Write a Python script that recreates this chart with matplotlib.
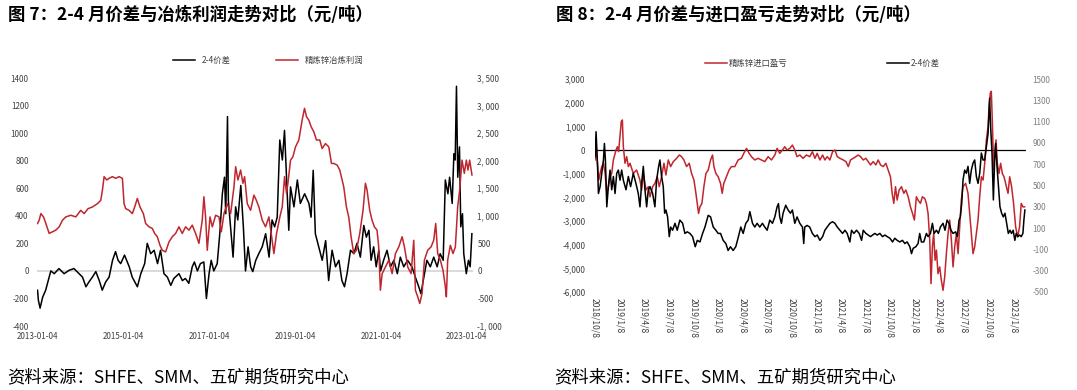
import matplotlib
matplotlib.use("Agg")
import matplotlib.pyplot as plt
import pandas as pd
from matplotlib.ticker import FuncFormatter

plt.rcParams["font.family"] = ["Noto Sans CJK SC", "DejaVu Sans"]
plt.rcParams["axes.unicode_minus"] = False

RED = "#C0262D"
GREY = "#404040"

# ---- figure 7: 2-4 spread vs smelting profit (x in decimal years) ----
f7_spread_t = [
    2013.00, 2013.02, 2013.06, 2013.12, 2013.19, 2013.27, 2013.31, 2013.39, 2013.50, 2013.62,
    2013.74, 2013.85, 2013.97, 2014.05, 2014.13, 2014.20, 2014.28, 2014.36, 2014.44, 2014.51,
    2014.59, 2014.67, 2014.75, 2014.82, 2014.88, 2014.94, 2015.03, 2015.14, 2015.21, 2015.33,
    2015.41, 2015.50, 2015.56, 2015.64, 2015.72, 2015.80, 2015.87, 2015.95, 2016.03, 2016.11,
    2016.18, 2016.30, 2016.38, 2016.45, 2016.53, 2016.61, 2016.66, 2016.73, 2016.80, 2016.88,
    2016.94, 2017.00, 2017.05, 2017.11, 2017.19, 2017.25, 2017.31, 2017.36, 2017.39, 2017.43,
    2017.45, 2017.50, 2017.56, 2017.62, 2017.67, 2017.74, 2017.80, 2017.85, 2017.91, 2017.97,
    2018.02, 2018.09, 2018.16, 2018.24, 2018.32, 2018.40, 2018.47, 2018.53, 2018.59, 2018.65,
    2018.71, 2018.76, 2018.81, 2018.86, 2018.90, 2018.98, 2019.06, 2019.13, 2019.23, 2019.33,
    2019.38, 2019.43, 2019.48, 2019.56, 2019.64, 2019.72, 2019.79, 2019.87, 2019.95, 2020.03,
    2020.10, 2020.16, 2020.22, 2020.30, 2020.38, 2020.45, 2020.53, 2020.61, 2020.67, 2020.73,
    2020.78, 2020.84, 2020.90, 2020.96, 2021.00, 2021.07, 2021.15, 2021.23, 2021.31, 2021.39,
    2021.46, 2021.54, 2021.63, 2021.73, 2021.81, 2021.89, 2021.94, 2022.01, 2022.08, 2022.16,
    2022.24, 2022.32, 2022.39, 2022.46, 2022.51, 2022.57, 2022.61, 2022.67, 2022.71, 2022.74,
    2022.77, 2022.80, 2022.84, 2022.87, 2022.91, 2022.94, 2023.00, 2023.05, 2023.09, 2023.13,
]
f7_spread = [
    -140, -213, -270, -190, -140, -45, 0, -20, 17, -20,
    5, 17, -20, -45, -115, -80, -45, -5, -70, -140,
    -80, -45, 77, 140, 77, 53, 115, 30, -45, -115,
    -20, 53, 200, 125, 150, 53, 150, -20, -45, -105,
    -55, -20, -70, -55, -90, 30, 65, 0, 53, 65,
    -200, -20, 77, 0, 53, 270, 560, 680, 415, 1120,
    510, 320, 100, 465, 370, 620, 320, 0, 175, 30,
    -5, 77, 125, 175, 270, 100, 370, 320, 390, 950,
    805, 1020, 660, 295, 610, 465, 660, 490, 560, 490,
    390, 730, 270, 175, 77, 220, -70, 150, 30, 77,
    -70, -115, -20, 150, 125, 200, 100, 330, 245, 295,
    77, 175, 30, 150, 0, 77, 150, 30, 77, -20,
    100, 30, 77, 30, -45, -115, -165, -45, 77, 30,
    100, 30, 125, 77, 660, 560, 680, 490, 850, 805,
    1340, 680, 900, 320, 415, 125, -20, 77, 30, 270,
]

f7_profit_t = [
    2013.000, 2013.039, 2013.078, 2013.140, 2013.194, 2013.272, 2013.349, 2013.427, 2013.505, 2013.582,
    2013.660, 2013.776, 2013.893, 2014.009, 2014.087, 2014.180, 2014.281, 2014.398, 2014.475, 2014.514,
    2014.553, 2014.615, 2014.669, 2014.747, 2014.825, 2014.902, 2014.980, 2015.019, 2015.057, 2015.135,
    2015.213, 2015.267, 2015.329, 2015.391, 2015.469, 2015.523, 2015.601, 2015.679, 2015.733, 2015.795,
    2015.857, 2015.911, 2015.989, 2016.067, 2016.144, 2016.222, 2016.300, 2016.377, 2016.455, 2016.533,
    2016.610, 2016.688, 2016.766, 2016.843, 2016.882, 2016.921, 2016.960, 2017.022, 2017.076, 2017.154,
    2017.231, 2017.286, 2017.348, 2017.425, 2017.503, 2017.581, 2017.620, 2017.674, 2017.736, 2017.790,
    2017.829, 2017.891, 2017.969, 2018.047, 2018.101, 2018.163, 2018.241, 2018.318, 2018.396, 2018.450,
    2018.512, 2018.575, 2018.652, 2018.707, 2018.761, 2018.807, 2018.839, 2018.901, 2018.955, 2019.017,
    2019.095, 2019.172, 2019.227, 2019.273, 2019.328, 2019.382, 2019.444, 2019.506, 2019.584, 2019.638,
    2019.716, 2019.793, 2019.856, 2019.910, 2019.988, 2020.050, 2020.104, 2020.143, 2020.205, 2020.259,
    2020.314, 2020.376, 2020.438, 2020.516, 2020.593, 2020.648, 2020.686, 2020.748, 2020.803, 2020.857,
    2020.919, 2020.958, 2020.997, 2021.036, 2021.113, 2021.191, 2021.269, 2021.346, 2021.424, 2021.502,
    2021.556, 2021.634, 2021.711, 2021.773, 2021.812, 2021.866, 2021.913, 2021.967, 2022.022, 2022.099,
    2022.177, 2022.239, 2022.286, 2022.332, 2022.394, 2022.457, 2022.511, 2022.534, 2022.565, 2022.627,
    2022.689, 2022.744, 2022.798, 2022.845, 2022.899, 2022.953, 2023.000, 2023.039, 2023.078, 2023.132,
]
f7_profit = [
    860, 920, 1040, 980, 860, 680, 710, 740, 800, 920,
    980, 1010, 980, 1100, 1040, 1130, 1160, 1220, 1280, 1465,
    1710, 1650, 1680, 1710, 1680, 1710, 1680, 1220, 1130, 1100,
    1040, 1160, 1315, 1160, 1040, 860, 800, 770, 680, 620,
    465, 375, 345, 525, 620, 680, 800, 680, 800, 740,
    830, 680, 500, 920, 1345, 980, 375, 980, 800, 1010,
    980, 710, 1040, 1220, 1040, 1525, 1890, 1650, 1830, 1590,
    1710, 1220, 1100, 1375, 1285, 1160, 920, 800, 980, 680,
    315, 680, 980, 1160, 1710, 1405, 1590, 2010, 2070, 2250,
    2375, 2735, 2950, 2800, 2735, 2615, 2525, 2375, 2375, 2220,
    2310, 2250, 1950, 1950, 1920, 1830, 1650, 1525, 1160, 980,
    620, 315, 375, 680, 1100, 1590, 1470, 1100, 920, 800,
    740, 435, -350, -50, 70, 195, -50, 315, 435, 620,
    435, 70, -50, 555, -350, -470, -590, -410, 195, 375,
    435, 555, 860, 315, 195, 10, -290, -470, 195, 465,
    315, 435, 1160, 1470, 2010, 1770, 2010, 1830, 2010, 1740,
]
f7_ticks = ["2013-01-04", "2015-01-04", "2017-01-04", "2019-01-04", "2021-01-04", "2023-01-04"]

# ---- figure 8: import profit vs 2-4 spread (x in decimal years) ----
f8_import_t = [
    2018.767, 2018.777, 2018.791, 2018.804, 2018.818, 2018.835, 2018.852, 2018.869, 2018.886, 2018.902,
    2018.919, 2018.936, 2018.953, 2018.980, 2018.994, 2019.007, 2019.021, 2019.034, 2019.045, 2019.055,
    2019.072, 2019.089, 2019.106, 2019.123, 2019.156, 2019.190, 2019.224, 2019.241, 2019.258, 2019.285,
    2019.309, 2019.326, 2019.353, 2019.376, 2019.400, 2019.420, 2019.444, 2019.468, 2019.488, 2019.512,
    2019.536, 2019.563, 2019.597, 2019.624, 2019.647, 2019.671, 2019.698, 2019.725, 2019.749, 2019.773,
    2019.793, 2019.807, 2019.820, 2019.834, 2019.854, 2019.874, 2019.895, 2019.918, 2019.942, 2019.962,
    2019.976, 2019.996, 2020.020, 2020.044, 2020.061, 2020.077, 2020.104, 2020.131, 2020.155, 2020.189,
    2020.223, 2020.257, 2020.280, 2020.308, 2020.335, 2020.358, 2020.392, 2020.426, 2020.460, 2020.494,
    2020.528, 2020.562, 2020.596, 2020.619, 2020.646, 2020.673, 2020.697, 2020.721, 2020.748, 2020.775,
    2020.799, 2020.822, 2020.850, 2020.883, 2020.917, 2020.951, 2020.978, 2021.002, 2021.025, 2021.052,
    2021.080, 2021.103, 2021.127, 2021.154, 2021.181, 2021.205, 2021.229, 2021.256, 2021.290, 2021.317,
    2021.341, 2021.364, 2021.391, 2021.418, 2021.442, 2021.466, 2021.493, 2021.520, 2021.544, 2021.567,
    2021.594, 2021.621, 2021.645, 2021.669, 2021.696, 2021.723, 2021.747, 2021.770, 2021.787, 2021.804,
    2021.821, 2021.838, 2021.858, 2021.882, 2021.906, 2021.926, 2021.950, 2021.973, 2021.994, 2022.014,
    2022.034, 2022.051, 2022.075, 2022.095, 2022.119, 2022.136, 2022.153, 2022.170, 2022.183, 2022.197,
    2022.210, 2022.224, 2022.238, 2022.254, 2022.271, 2022.288, 2022.305, 2022.322, 2022.339, 2022.356,
    2022.373, 2022.390, 2022.407, 2022.424, 2022.441, 2022.458, 2022.474, 2022.491, 2022.508, 2022.535,
    2022.559, 2022.576, 2022.593, 2022.610, 2022.627, 2022.644, 2022.661, 2022.678, 2022.695, 2022.712,
    2022.729, 2022.746, 2022.763, 2022.773, 2022.786, 2022.796, 2022.806, 2022.820, 2022.834, 2022.844,
    2022.857, 2022.874, 2022.891, 2022.908, 2022.925, 2022.949, 2022.966, 2022.983, 2023.003, 2023.023,
    2023.044, 2023.064, 2023.084, 2023.101, 2023.118, 2023.135,
]
f8_import = [
    -420, 210, -560, -1270, -990, -700, -560, -990, -1830, -1550,
    -1130, -990, -420, 0, 140, -70, 565, 1200, 1270, 140,
    -560, -280, -700, -560, -990, -845, -1270, -1690, -990, -1690,
    -1550, -1975, -1550, -1410, -1130, -1550, -1130, -560, -1055, -420,
    -700, -490, -350, -210, -280, -420, -700, -560, -990, -1270,
    -1830, -2255, -2680, -2400, -2255, -1550, -990, -845, -420, -210,
    -700, -990, -1130, -1410, -1830, -1410, -1130, -845, -700, -700,
    -420, -350, -140, 70, -140, -280, -420, -350, -420, -490,
    -280, -420, -210, 70, -140, 0, 140, 0, 70, 210,
    0, -280, -210, -350, -210, -280, -70, -350, -140, -420,
    -210, -420, -280, -420, -70, 0, -280, -350, -420, -490,
    -700, -420, -350, -280, -210, -280, -420, -350, -490, -630,
    -490, -630, -420, -630, -700, -560, -845, -1130, -1830, -2255,
    -1550, -2115, -1690, -1550, -1830, -1690, -1975, -2400, -2680, -2960,
    -1975, -2115, -2255, -1975, -2045, -2255, -2680, -3810, -5650, -4090,
    -3530, -4660, -4230, -5225, -4940, -5505, -5930, -5365, -4380, -3530,
    -2960, -3810, -4940, -4090, -3530, -4380, -3245, -2115, -1550, -1410,
    -1830, -2680, -3530, -4380, -4090, -3530, -2960, -1975, -1130, -1270,
    -560, 430, 990, 1840, 2410, 2480, 1270, -845, 0, 430,
    -560, -990, -560, -990, -1130, -1550, -1830, -1130, -1550, -2255,
    -3245, -3670, -3245, -2255, -2400, -2400,
]

f8_spread_t = [
    2018.767, 2018.777, 2018.791, 2018.801, 2018.818, 2018.835, 2018.852, 2018.862, 2018.872, 2018.886,
    2018.902, 2018.919, 2018.936, 2018.953, 2018.970, 2018.987, 2019.004, 2019.021, 2019.038, 2019.055,
    2019.082, 2019.106, 2019.129, 2019.156, 2019.183, 2019.207, 2019.224, 2019.241, 2019.258, 2019.275,
    2019.292, 2019.309, 2019.326, 2019.353, 2019.376, 2019.393, 2019.414, 2019.427, 2019.444, 2019.461,
    2019.475, 2019.488, 2019.505, 2019.522, 2019.536, 2019.556, 2019.580, 2019.603, 2019.630, 2019.658,
    2019.681, 2019.705, 2019.732, 2019.759, 2019.786, 2019.807, 2019.834, 2019.861, 2019.885, 2019.918,
    2019.942, 2019.969, 2019.996, 2020.020, 2020.044, 2020.071, 2020.098, 2020.121, 2020.145, 2020.172,
    2020.199, 2020.226, 2020.250, 2020.274, 2020.301, 2020.325, 2020.342, 2020.369, 2020.392, 2020.416,
    2020.443, 2020.470, 2020.494, 2020.518, 2020.545, 2020.572, 2020.596, 2020.619, 2020.633, 2020.646,
    2020.663, 2020.680, 2020.707, 2020.731, 2020.755, 2020.775, 2020.799, 2020.822, 2020.850, 2020.877,
    2020.890, 2020.900, 2020.924, 2020.951, 2020.978, 2021.002, 2021.025, 2021.052, 2021.080, 2021.103,
    2021.127, 2021.154, 2021.181, 2021.205, 2021.229, 2021.256, 2021.283, 2021.307, 2021.330, 2021.357,
    2021.374, 2021.398, 2021.425, 2021.452, 2021.476, 2021.493, 2021.520, 2021.544, 2021.567, 2021.588,
    2021.611, 2021.635, 2021.662, 2021.689, 2021.713, 2021.737, 2021.764, 2021.791, 2021.814, 2021.838,
    2021.865, 2021.892, 2021.916, 2021.940, 2021.967, 2021.984, 2022.001, 2022.028, 2022.051, 2022.068,
    2022.085, 2022.109, 2022.136, 2022.153, 2022.177, 2022.197, 2022.214, 2022.238, 2022.258, 2022.278,
    2022.305, 2022.325, 2022.346, 2022.366, 2022.386, 2022.407, 2022.434, 2022.451, 2022.468, 2022.481,
    2022.495, 2022.508, 2022.525, 2022.542, 2022.559, 2022.576, 2022.593, 2022.610, 2022.627, 2022.644,
    2022.661, 2022.678, 2022.695, 2022.712, 2022.729, 2022.746, 2022.763, 2022.779, 2022.789, 2022.803,
    2022.817, 2022.830, 2022.840, 2022.854, 2022.871, 2022.884, 2022.901, 2022.918, 2022.935, 2022.952,
    2022.969, 2022.986, 2023.002, 2023.019, 2023.036, 2023.050, 2023.067, 2023.084, 2023.101, 2023.118,
    2023.128, 2023.138,
]
f8_spread = [
    770, 1005, 710, 425, 490, 615, 740, 895, 740, 300,
    490, 645, 460, 585, 425, 615, 645, 550, 645, 550,
    460, 585, 490, 615, 520, 425, 300, 520, 680, 460,
    300, 460, 490, 425, 300, 550, 680, 740, 585, 490,
    240, 270, 205, 20, 110, 80, 145, 80, 175, 145,
    50, 65, 50, 20, -75, -15, -30, 50, 110, 220,
    205, 110, 80, 50, 50, -15, -45, -110, -75, -110,
    -75, 20, 110, 50, 145, 175, 255, 145, 110, 145,
    110, 145, 110, 80, 175, 145, 205, 300, 330, 205,
    145, 240, 315, 270, 240, 270, 145, 205, 145, 110,
    -45, 110, 125, 110, 50, 20, 35, -15, 20, 80,
    110, 145, 160, 145, 110, 80, 50, 80, 50, -30,
    80, 50, 80, 50, -15, 80, 50, 35, 20, 35,
    50, 35, 50, 20, 35, 20, 5, -30, 5, -15,
    -30, -15, -45, -30, -75, -140, -90, -75, -45, 50,
    -30, -30, 50, 20, 50, 145, 50, 80, 50, 110,
    145, 80, 175, 145, 80, 50, 65, 20, 175, 205,
    330, 550, 645, 615, 680, 520, 645, 710, 740, 585,
    520, 615, 805, 740, 740, 865, 990, 1320, 1055, 805,
    365, 740, 895, 680, 460, 300, 240, 205, 240, 145,
    50, 80, 50, 80, -15, 50, 20, 35, 20, 50,
    175, 270,
]
f8_ticks = [
    "2018/10/8", "2019/1/8", "2019/4/8", "2019/7/8", "2019/10/8", "2020/1/8",
    "2020/4/8", "2020/7/8", "2020/10/8", "2021/1/8", "2021/4/8", "2021/7/8",
    "2021/10/8", "2022/1/8", "2022/4/8", "2022/7/8", "2022/10/8", "2023/1/8",
]


def to_dates(years):
    out = []
    for y in years:
        base = pd.Timestamp(int(y), 1, 1)
        out.append(base + pd.Timedelta(days=(y - int(y)) * 365.25))
    return out


def comma_space(v, pos):
    return f"{int(v):,}".replace(",", ", ")


def comma(v, pos):
    return f"{int(v):,}"


def clean(ax):
    for sp in ax.spines.values():
        sp.set_visible(False)
    ax.tick_params(length=0, labelsize=5.8, labelcolor=GREY)


fig = plt.figure(figsize=(10.77, 3.90), dpi=100)

# ---------- left chart ----------
ax1 = fig.add_axes([0.0344, 0.164, 0.405, 0.636])
ax1b = ax1.twinx()
l1, = ax1.plot(to_dates(f7_spread_t), f7_spread, color="black", lw=1.1, label="2-4价差")
l2, = ax1b.plot(to_dates(f7_profit_t), f7_profit, color=RED, lw=1.1, label="精炼锌冶炼利润")
ax1.axhline(0, color="#d9d9d9", lw=1.4, zorder=0)
ax1.set_ylim(-400, 1400)
ax1.set_yticks(range(-400, 1401, 200))
ax1b.set_ylim(-1000, 3500)
ax1b.set_yticks(range(-1000, 3501, 500))
ax1b.yaxis.set_major_formatter(FuncFormatter(comma_space))
ax1.set_xlim(pd.Timestamp("2012-12-28"), pd.Timestamp("2023-03-01"))
ax1.set_xticks([pd.Timestamp(d) for d in f7_ticks])
ax1.set_xticklabels(f7_ticks)
for a in (ax1, ax1b):
    clean(a)
ax1.tick_params(axis="y", pad=6)
ax1.tick_params(axis="x", pad=4.5)
ax1b.tick_params(axis="y", pad=3)
ax1.legend(handles=[l1, l2], loc="center", bbox_to_anchor=(0.53, 1.07), ncol=2,
           frameon=False, fontsize=6, handlelength=2.6, columnspacing=5.5,
           labelcolor=GREY)

# ---------- right chart ----------
ax2 = fig.add_axes([0.5525, 0.2513, 0.400, 0.546])
ax2b = ax2.twinx()
r1, = ax2.plot(to_dates(f8_import_t), f8_import, color=RED, lw=1.1, label="精炼锌进口盈亏")
r2, = ax2b.plot(to_dates(f8_spread_t), f8_spread, color="black", lw=1.1, label="2-4价差")
ax2.axhline(0, color="black", lw=0.9, zorder=0)
ax2.set_ylim(-6000, 3000)
ax2.set_yticks(range(-6000, 3001, 1000))
ax2.yaxis.set_major_formatter(FuncFormatter(comma))
ax2b.set_ylim(-500, 1500)
ax2b.set_yticks(range(-500, 1501, 200))
tick_dates = [pd.Timestamp(d.replace("/", "-")) for d in f8_ticks]
ax2.set_xlim(pd.Timestamp("2018-10-08"), pd.Timestamp("2023-02-24"))
ax2.set_xticks(tick_dates)
ax2.set_xticklabels(f8_ticks, rotation=270, va="top", ha="center")
for a in (ax2, ax2b):
    clean(a)
ax2b.tick_params(labelcolor="#7f7f7f")
ax2.tick_params(axis="y", pad=7)
ax2.tick_params(axis="x", pad=4, labelsize=6.2)
ax2b.tick_params(axis="y", pad=5)
ax2.legend(handles=[r1, r2], loc="center", bbox_to_anchor=(0.527, 1.075), ncol=2,
           frameon=False, fontsize=6, handlelength=2.6, handletextpad=0.2,
           columnspacing=12, labelcolor=GREY)

# ---------- titles and sources ----------
fig.text(0.007, 0.962, "图 7：2-4 月价差与冶炼利润走势对比（元/吨）", fontsize=12.5,
         fontweight="bold", va="center", ha="left")
fig.text(0.516, 0.962, "图 8：2-4 月价差与进口盈亏走势对比（元/吨）", fontsize=12.5,
         fontweight="bold", va="center", ha="left")
fig.text(0.007, 0.033, "资料来源：SHFE、SMM、五矿期货研究中心", fontsize=12.5,
         va="center", ha="left")
fig.text(0.515, 0.033, "资料来源：SHFE、SMM、五矿期货研究中心", fontsize=12.5,
         va="center", ha="left")

fig.savefig("out.png", dpi=100)
